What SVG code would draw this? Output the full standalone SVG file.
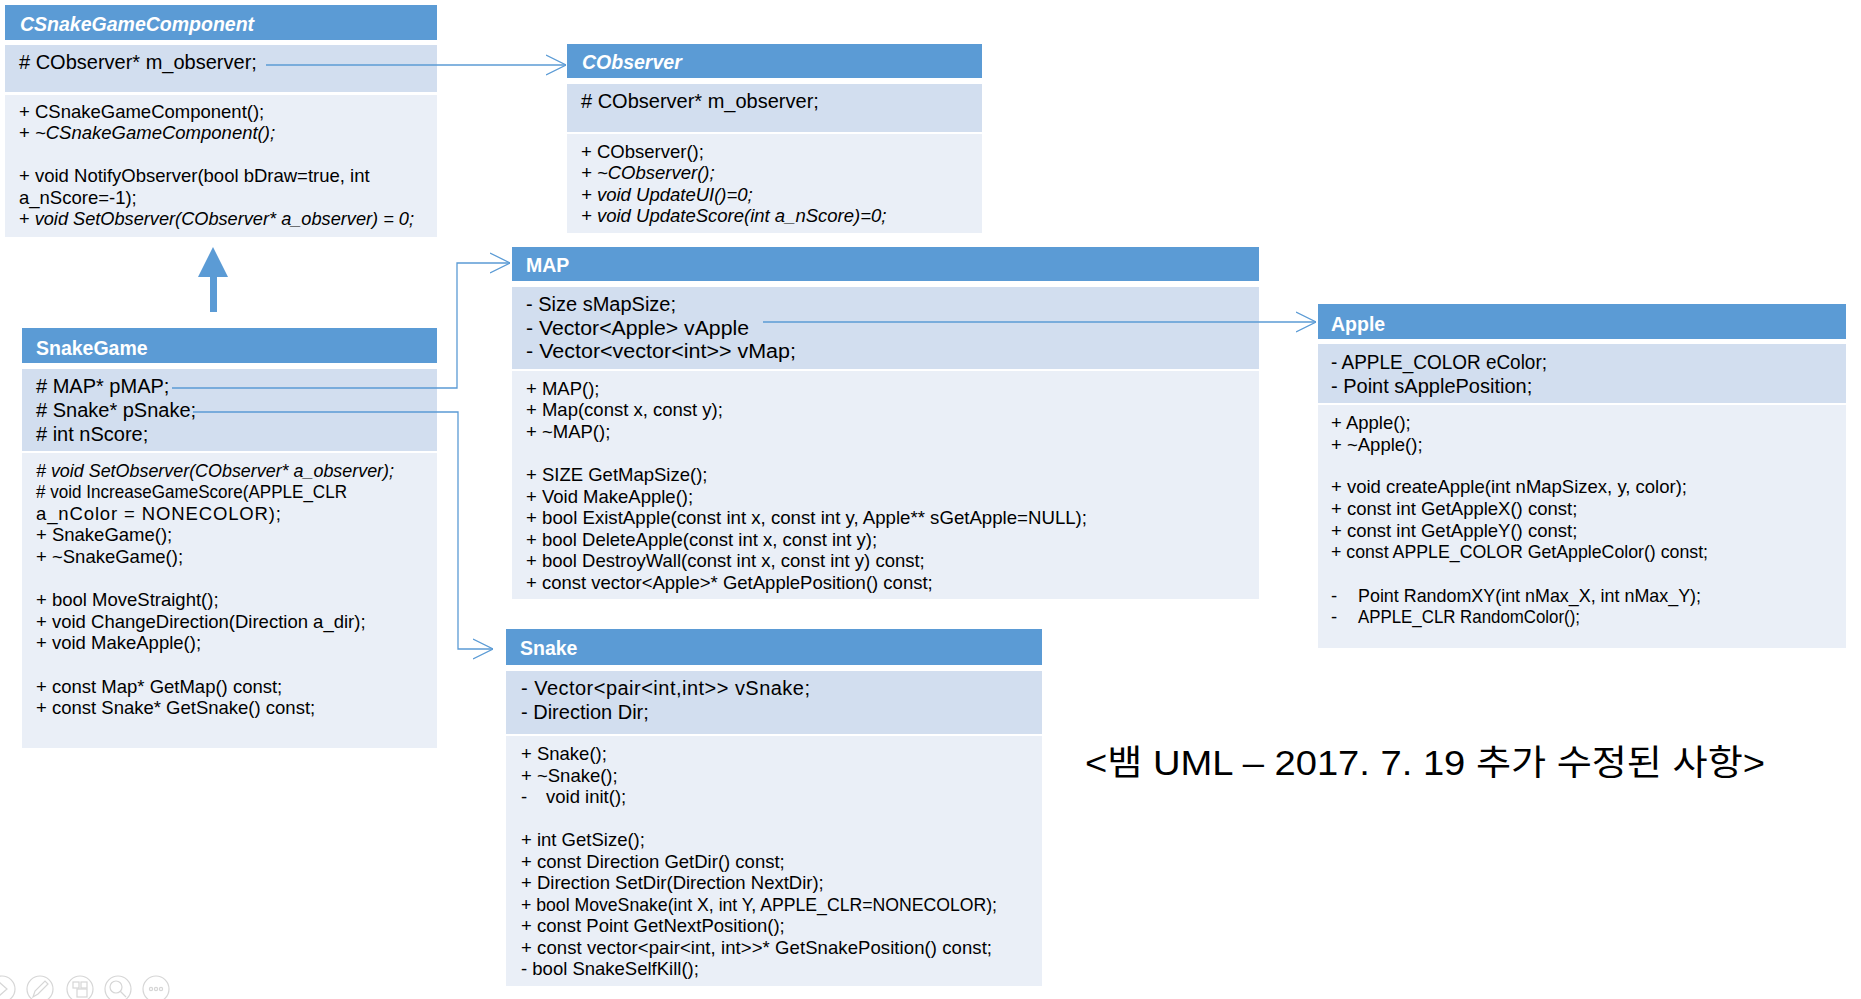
<svg xmlns="http://www.w3.org/2000/svg" width="1861" height="999" viewBox="0 0 1861 999">
<style>
.hdr{fill:#5B9BD5}
.att{fill:#D2DEEF}
.met{fill:#EAEFF7}
text{font-family:"Liberation Sans","Noto Sans CJK KR",sans-serif;fill:#000}
.ttl{font-size:19.5px;font-weight:bold;fill:#fff}
.a{font-size:20px}
.m{font-size:18.5px}
.it{font-style:italic}
.conn{fill:none;stroke:#5B9BD5;stroke-width:1.3}
.ico{fill:none;stroke:#D6D6D6;stroke-width:1.2}
</style>
<defs>
<marker id="open" viewBox="0 0 20 22" refX="20" refY="11" markerWidth="20" markerHeight="22" markerUnits="userSpaceOnUse" orient="auto">
<path d="M0,1 L20,11 L0,21" fill="none" stroke="#5B9BD5" stroke-width="1.3"/>
</marker>
</defs>
<rect width="1861" height="999" fill="#fff"/>

<g id="CSnakeGameComponent">
<rect class="hdr" x="5" y="5" width="432" height="35"/>
<rect class="att" x="5" y="45" width="432" height="47"/>
<rect class="met" x="5" y="95" width="432" height="142"/>
<text class="ttl it" x="20" y="31">CSnakeGameComponent</text>
<text class="a" x="19" y="69"># CObserver* m_observer;</text>
<text class="m" x="19" y="118">+ CSnakeGameComponent();</text>
<text class="m" x="19" y="139">+ <tspan class="it"> ~CSnakeGameComponent();</tspan></text>
<text class="m" x="19" y="182">+ void NotifyObserver(bool bDraw=true, int</text>
<text class="m" x="19" y="204">a_nScore=-1);</text>
<text class="m" x="19" y="225" textLength="395" lengthAdjust="spacingAndGlyphs">+ <tspan class="it">void SetObserver(CObserver* a_observer) = 0;</tspan></text>
</g>

<g id="CObserver">
<rect class="hdr" x="567" y="44" width="415" height="34"/>
<rect class="att" x="567" y="84" width="415" height="48"/>
<rect class="met" x="567" y="134" width="415" height="99"/>
<text class="ttl it" x="582" y="69">CObserver</text>
<text class="a" x="581" y="108"># CObserver* m_observer;</text>
<text class="m" x="581" y="158">+ CObserver();</text>
<text class="m it" x="581" y="179">+ ~CObserver();</text>
<text class="m it" x="581" y="201">+ void UpdateUI()=0;</text>
<text class="m it" x="581" y="222">+ void UpdateScore(int a_nScore)=0;</text>
</g>

<g id="SnakeGame">
<rect class="hdr" x="22" y="328" width="415" height="35"/>
<rect class="att" x="22" y="369" width="415" height="82"/>
<rect class="met" x="22" y="453" width="415" height="295"/>
<text class="ttl" x="36" y="355">SnakeGame</text>
<text class="a" x="36" y="393"># MAP* pMAP;</text>
<text class="a" x="36" y="417"># Snake* pSnake;</text>
<text class="a" x="36" y="441"># int nScore;</text>
<text class="m it" x="36" y="477" textLength="358" lengthAdjust="spacingAndGlyphs"># void SetObserver(CObserver* a_observer);</text>
<text class="m" x="36" y="498" textLength="311" lengthAdjust="spacingAndGlyphs"># void IncreaseGameScore(APPLE_CLR</text>
<text class="m" x="36" y="520" textLength="245" lengthAdjust="spacing">a_nColor = NONECOLOR);</text>
<text class="m" x="36" y="541">+ SnakeGame();</text>
<text class="m" x="36" y="563">+ ~SnakeGame();</text>
<text class="m" x="36" y="606">+ bool MoveStraight();</text>
<text class="m" x="36" y="628">+ void ChangeDirection(Direction a_dir);</text>
<text class="m" x="36" y="649">+ void MakeApple();</text>
<text class="m" x="36" y="693">+ const Map* GetMap() const;</text>
<text class="m" x="36" y="714">+ const Snake* GetSnake() const;</text>
</g>

<g id="MAP">
<rect class="hdr" x="512" y="247" width="747" height="34"/>
<rect class="att" x="512" y="287" width="747" height="82"/>
<rect class="met" x="512" y="371" width="747" height="228"/>
<text class="ttl" x="526" y="272">MAP</text>
<text class="a" x="526" y="311">- Size sMapSize;</text>
<text class="a" x="526" y="335" textLength="223" lengthAdjust="spacingAndGlyphs">- Vector&lt;Apple&gt; vApple</text>
<text class="a" x="526" y="358" textLength="270" lengthAdjust="spacingAndGlyphs">- Vector&lt;vector&lt;int&gt;&gt; vMap;</text>
<text class="m" x="526" y="395">+ MAP();</text>
<text class="m" x="526" y="416">+ Map(const x, const y);</text>
<text class="m" x="526" y="438">+ ~MAP();</text>
<text class="m" x="526" y="481">+ SIZE GetMapSize();</text>
<text class="m" x="526" y="503">+ Void MakeApple();</text>
<text class="m" x="526" y="524" textLength="561" lengthAdjust="spacingAndGlyphs">+ bool ExistApple(const int x, const int y, Apple** sGetApple=NULL);</text>
<text class="m" x="526" y="546">+ bool DeleteApple(const int x, const int y);</text>
<text class="m" x="526" y="567">+ bool DestroyWall(const int x, const int y) const;</text>
<text class="m" x="526" y="589">+ const vector&lt;Apple&gt;* GetApplePosition() const;</text>
</g>

<g id="Apple">
<rect class="hdr" x="1318" y="304" width="528" height="35"/>
<rect class="att" x="1318" y="344" width="528" height="59"/>
<rect class="met" x="1318" y="405" width="528" height="243"/>
<text class="ttl" x="1331" y="331">Apple</text>
<text class="a" x="1331" y="369" textLength="216" lengthAdjust="spacingAndGlyphs">- APPLE_COLOR eColor;</text>
<text class="a" x="1331" y="393">- Point sApplePosition;</text>
<text class="m" x="1331" y="429">+ Apple();</text>
<text class="m" x="1331" y="451">+ ~Apple();</text>
<text class="m" x="1331" y="493">+ void createApple(int nMapSizex, y, color);</text>
<text class="m" x="1331" y="515">+ const int GetAppleX() const;</text>
<text class="m" x="1331" y="537">+ const int GetAppleY() const;</text>
<text class="m" x="1331" y="558" textLength="377" lengthAdjust="spacingAndGlyphs">+ const APPLE_COLOR GetAppleColor() const;</text>
<text class="m" x="1331" y="602">-</text>
<text class="m" x="1358" y="602" textLength="343" lengthAdjust="spacingAndGlyphs">Point RandomXY(int nMax_X, int nMax_Y);</text>
<text class="m" x="1331" y="623">-</text>
<text class="m" x="1358" y="623" textLength="222" lengthAdjust="spacingAndGlyphs">APPLE_CLR RandomColor();</text>
</g>

<g id="Snake">
<rect class="hdr" x="506" y="629" width="536" height="36"/>
<rect class="att" x="506" y="671" width="536" height="63"/>
<rect class="met" x="506" y="736" width="536" height="250"/>
<text class="ttl" x="520" y="655">Snake</text>
<text class="a" x="521" y="695" textLength="289" lengthAdjust="spacing">- Vector&lt;pair&lt;int,int&gt;&gt; vSnake;</text>
<text class="a" x="521" y="719">- Direction Dir;</text>
<text class="m" x="521" y="760">+ Snake();</text>
<text class="m" x="521" y="782">+ ~Snake();</text>
<text class="m" x="521" y="803">-</text>
<text class="m" x="546" y="803">void init();</text>
<text class="m" x="521" y="846">+ int GetSize();</text>
<text class="m" x="521" y="868">+ const Direction GetDir() const;</text>
<text class="m" x="521" y="889">+ Direction SetDir(Direction NextDir);</text>
<text class="m" x="521" y="911" textLength="476" lengthAdjust="spacingAndGlyphs">+ bool MoveSnake(int X, int Y, APPLE_CLR=NONECOLOR);</text>
<text class="m" x="521" y="932">+ const Point GetNextPosition();</text>
<text class="m" x="521" y="954" textLength="471" lengthAdjust="spacing">+ const vector&lt;pair&lt;int, int&gt;&gt;* GetSnakePosition() const;</text>
<text class="m" x="521" y="975">- bool SnakeSelfKill();</text>
</g>

<g id="connectors">
<path class="conn" d="M266,65 H566" marker-end="url(#open)"/>
<path class="conn" d="M172,388 H457 V263 H510" marker-end="url(#open)"/>
<path class="conn" d="M193,412 H458 V649 H493" marker-end="url(#open)"/>
<path class="conn" d="M763,322 H1316" marker-end="url(#open)"/>
<g id="inheritance" fill="#5B9BD5">
<rect x="210" y="276" width="7" height="36"/>
<polygon points="198,277 228,277 213,247"/>
</g>
</g>

<g id="caption">
<text x="1085" y="775" font-size="35" textLength="680" lengthAdjust="spacingAndGlyphs">&lt;뱀 UML – 2017. 7. 19 추가 수정된 사항&gt;</text>
</g>

<g id="slide-controls">
<circle class="ico" cx="2" cy="989" r="13"/>
<path class="ico" d="M-1,982 L7,989 L-1,996 Z"/>
<circle class="ico" cx="40" cy="989" r="13"/>
<path class="ico" d="M33,997 L35,991 L45,981 L48,984 L38,994 Z"/>
<circle class="ico" cx="80" cy="989" r="13"/>
<rect class="ico" x="73" y="982" width="6" height="6"/>
<rect class="ico" x="81" y="982" width="6" height="6"/>
<rect class="ico" x="77" y="989" width="10" height="8" fill="#E0E0E0"/>
<circle class="ico" cx="118" cy="989" r="13"/>
<circle class="ico" cx="116" cy="987" r="6"/>
<path class="ico" d="M120,991 L126,997"/>
<circle class="ico" cx="156" cy="989" r="13"/>
<circle class="ico" cx="151" cy="989" r="1.6"/>
<circle class="ico" cx="156" cy="989" r="1.6"/>
<circle class="ico" cx="161" cy="989" r="1.6"/>
</g>
</svg>
